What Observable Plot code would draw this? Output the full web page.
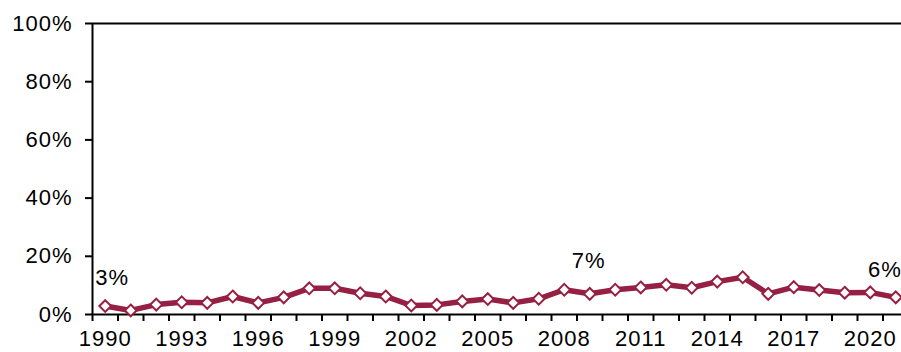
<!DOCTYPE html>
<html>
<head>
<meta charset="utf-8">
<script src="https://cdn.jsdelivr.net/npm/d3@7"></script>
<script src="https://cdn.jsdelivr.net/npm/@observablehq/plot@0.6"></script>
<style>
  html, body { margin: 0; padding: 0; background: #fff; overflow: hidden; }
  #chart text { letter-spacing: 1px; }
</style>
</head>
<body>
<div id="chart"></div>
<script>
const years = [1990,1991,1992,1993,1994,1995,1996,1997,1998,1999,2000,2001,2002,2003,2004,2005,2006,2007,2008,2009,2010,2011,2012,2013,2014,2015,2016,2017,2018,2019,2020,2021];
const values = [2.9,1.4,3.4,4.2,4.0,6.2,4.0,5.9,9.0,9.0,7.3,6.2,3.1,3.3,4.5,5.3,4.0,5.4,8.5,7.1,8.5,9.3,10.2,9.2,11.3,12.8,7.1,9.4,8.4,7.5,7.6,5.9];
const labelYears = [1990, 2009, 2021];
const xTickLabels = [1990,1993,1996,1999,2002,2005,2008,2011,2014,2017,2020];
const yTicks = [0,20,40,60,80,100];

const data = years.map((y, i) => ({year: y, value: values[i]}));
const labelled = data.filter(d => labelYears.includes(d.year));
const boundaries = d3.range(years[0] - 0.5, years[years.length - 1] + 1, 1);
const color = "#962043";
const fs = 22;

const chart = Plot.plot({
  width: 901,
  height: 352,
  marginLeft: 92,
  marginRight: 0,
  marginTop: 23,
  marginBottom: 38,
  style: {fontFamily: "'Liberation Sans', Arial, sans-serif", fontSize: fs + "px", color: "#000", background: "#fff"},
  x: {domain: [1989.5, 2021.5], range: [92, 908]},
  y: {domain: [0, 100]},
  marks: [
    Plot.ruleY([0, 100], {stroke: "#000", strokeWidth: 2}),
    Plot.ruleX([1989.5], {stroke: "#000", strokeWidth: 2}),
    Plot.axisY({ticks: yTicks, tickFormat: d => d + "%", tickSize: 7, tickPadding: 13, strokeWidth: 2, fontSize: fs, label: null}),
    Plot.axisX({ticks: boundaries, tickFormat: () => "", tickSize: 7, strokeWidth: 2, label: null}),
    Plot.axisX({ticks: xTickLabels, tickFormat: d => String(d), tickSize: 0, tickPadding: 16, fontSize: fs, label: null}),
    Plot.line(data, {x: "year", y: "value", stroke: color, strokeWidth: 5.5, strokeLinejoin: "round"}),
    Plot.dot(data, {x: "year", y: "value", symbol: "diamond2", r: 5.3, fill: "#fff", stroke: color, strokeWidth: 2}),
    Plot.text(labelled.filter(d => d.year === 1990), {x: "year", y: "value", text: d => Math.round(d.value) + "%", dy: -28, dx: 7, fontSize: fs, fill: "#000"}),
    Plot.text(labelled.filter(d => d.year === 2009), {x: "year", y: "value", text: d => Math.round(d.value) + "%", dy: -33, dx: -1, fontSize: fs, fill: "#000"}),
    Plot.text(labelled.filter(d => d.year === 2021), {x: "year", y: "value", text: d => Math.round(d.value) + "%", dy: -27, dx: 6, textAnchor: "end", fontSize: fs, fill: "#000"})
  ]
});
document.getElementById("chart").appendChild(chart);
</script>
</body>
</html>
